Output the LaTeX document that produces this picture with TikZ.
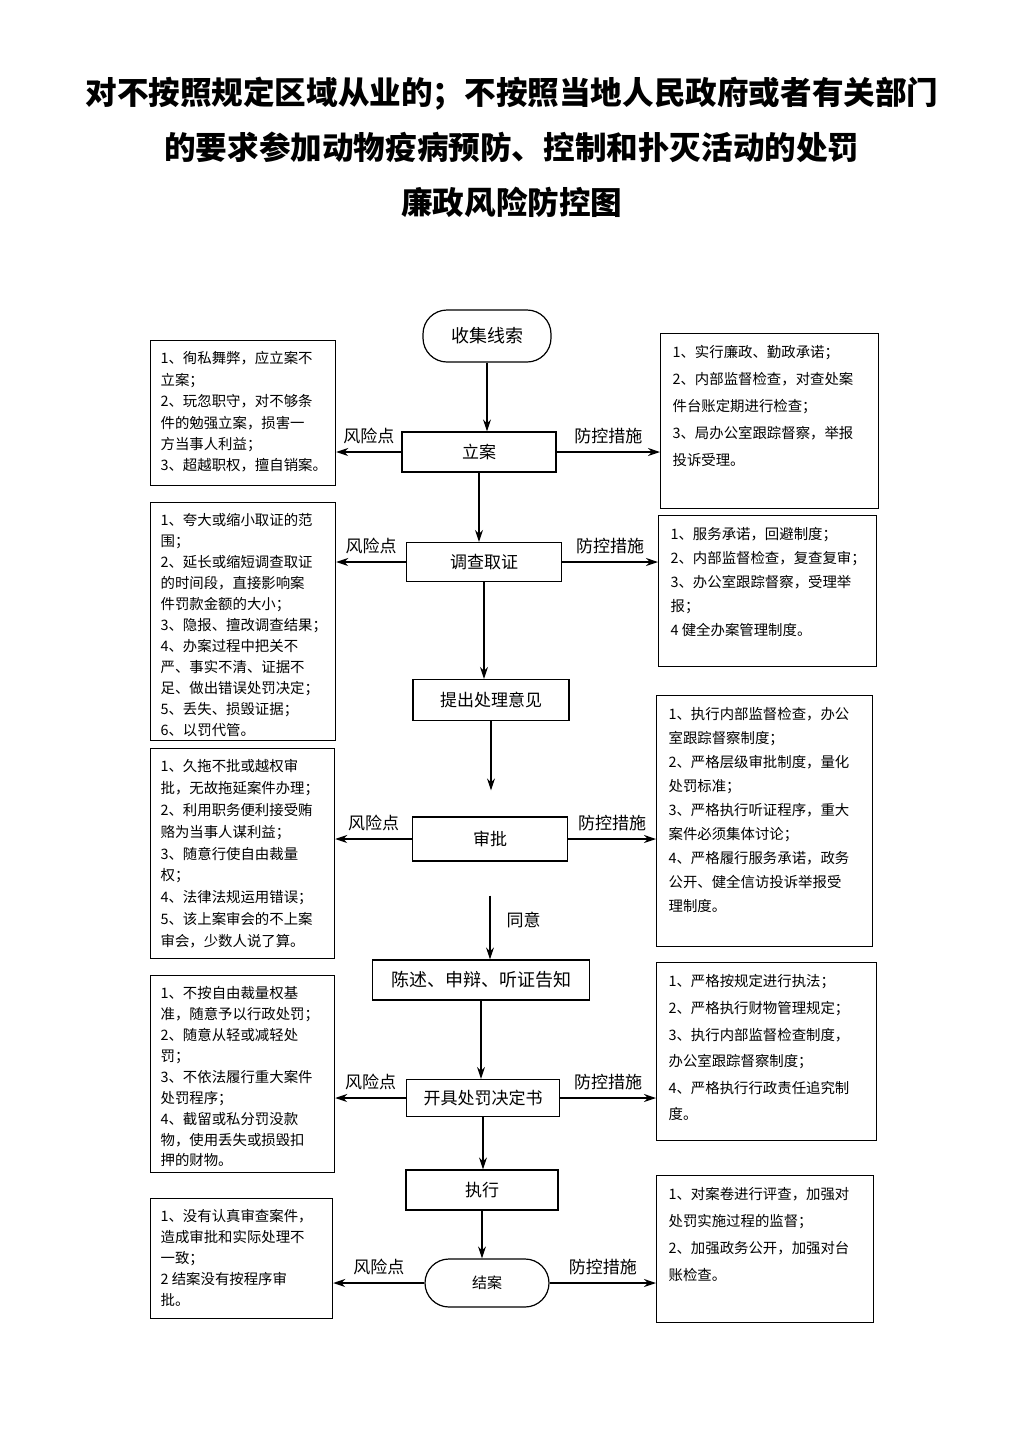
\documentclass[tikz,border=0pt]{standalone}
\usepackage{fontspec}
\setmainfont{Noto Sans CJK SC}
\usepackage{tikz}
\usetikzlibrary{arrows.meta}

% text of a side box: width, height, line distance, lines
\newcommand{\sidetxt}[4]{\parbox[t][#2][t]{#1}{\fontsize{7.2pt}{#3}\selectfont #4}}

\tikzset{
  proc/.style={draw, line width=0.6pt, inner sep=2pt, font=\fontsize{8.5pt}{10pt}\selectfont},
  term/.style={proc, rounded corners=12pt},
  risk/.style={draw, line width=0.6pt, anchor=north west, inner xsep=5pt, inner ysep=5.5pt},
  guard/.style={draw, line width=0.6pt, anchor=north west, inner xsep=6pt, inner ysep=6pt},
  flow/.style={line width=0.6pt, -{Stealth[length=6pt,width=4pt]}},
  lbl/.style={font=\fontsize{8.5pt}{10pt}\selectfont, inner sep=2pt}
}

\begin{document}
\begin{tikzpicture}[x=0.5pt, y=-0.5pt]
  \useasboundingbox (0,0) rectangle (1024,1448);

  % Title
  \node[align=center, font=\fontsize{15.8pt}{27.5pt}\selectfont\bfseries] (title) at (512,147)
    {对不按照规定区域从业的；不按照当地人民政府或者有关部门\\
     的要求参加动物疫病预防、控制和扑灭活动的处罚\\
     廉政风险防控图};

  % Define nodes
  \node[term, minimum width=64pt, minimum height=26pt, font=\fontsize{9pt}{10pt}\selectfont] (clue) at (487,336) {收集线索};
  \node[proc, minimum width=77pt, minimum height=20pt] (file) at (479,452) {立案};
  \node[proc, minimum width=77.5pt, minimum height=19.5pt] (probe) at (484,562) {调查取证};
  \node[proc, minimum width=78pt, minimum height=20.5pt] (opinion) at (491,700) {提出处理意见};
  \node[proc, minimum width=77.5pt, minimum height=22pt] (approve) at (490,839) {审批};
  \node[proc, minimum width=108.5pt, minimum height=20pt, font=\fontsize{9pt}{10pt}\selectfont] (notice) at (481,980) {陈述、申辩、听证告知};
  \node[proc, minimum width=76.5pt, minimum height=18.5pt] (decide) at (483,1098) {开具处罚决定书};
  \node[proc, minimum width=76pt, minimum height=20pt] (exec) at (482,1190) {执行};
  \node[term, minimum width=62pt, minimum height=24pt, font=\fontsize{7.5pt}{9pt}\selectfont] (close) at (487,1283) {结案};

  % Risk points
  \node[risk] (l1) at (150,340) {\sidetxt{82.5pt}{61.5pt}{10.7pt}{%
    1、徇私舞弊，应立案不\\立案；\\2、玩忽职守，对不够条\\件的勉强立案，损害一\\方当事人利益；\\3、超越职权，擅自销案。}};
  \node[risk] (l2) at (150,502) {\sidetxt{82.5pt}{108pt}{10.5pt}{%
    1、夸大或缩小取证的范\\围；\\2、延长或缩短调查取证\\的时间段，直接影响案\\件罚款金额的大小；\\3、隐报、擅改调查结果；\\4、办案过程中把关不\\严、事实不清、证据不\\足、做出错误处罚决定；\\5、丢失、损毁证据；\\6、以罚代管。}};
  \node[risk] (l3) at (150,748) {\sidetxt{82pt}{94pt}{10.9pt}{%
    1、久拖不批或越权审\\批，无故拖延案件办理；\\2、利用职务便利接受贿\\赂为当事人谋利益；\\3、随意行使自由裁量\\权；\\4、法律法规运用错误；\\5、该上案审会的不上案\\审会，少数人说了算。}};
  \node[risk] (l4) at (150,975) {\sidetxt{82pt}{87.5pt}{10.45pt}{%
    1、不按自由裁量权基\\准，随意予以行政处罚；\\2、随意从轻或减轻处\\罚；\\3、不依法履行重大案件\\处罚程序；\\4、截留或私分罚没款\\物，使用丢失或损毁扣\\押的财物。}};
  \node[risk] (l5) at (150,1198) {\sidetxt{81pt}{49pt}{10.4pt}{%
    1、没有认真审查案件，\\造成审批和实际处理不\\一致；\\2 结案没有按程序审\\批。}};

  % Control measures
  \node[guard] (r1) at (660,333) {\sidetxt{97pt}{75.5pt}{13.4pt}{%
    1、实行廉政、勤政承诺；\\2、内部监督检查，对查处案\\件台账定期进行检查；\\3、局办公室跟踪督察，举报\\投诉受理。}};
  \node[guard] (r2) at (658,515) {\sidetxt{97pt}{63.5pt}{12pt}{%
    1、服务承诺，回避制度；\\2、内部监督检查，复查复审；\\3、办公室跟踪督察，受理举\\报；\\4 健全办案管理制度。}};
  \node[guard] (r3) at (656,695) {\sidetxt{96pt}{113.5pt}{12pt}{%
    1、执行内部监督检查，办公\\室跟踪督察制度；\\2、严格层级审批制度，量化\\处罚标准；\\3、严格执行听证程序，重大\\案件必须集体讨论；\\4、严格履行服务承诺，政务\\公开、健全信访投诉举报受\\理制度。}};
  \node[guard] (r4) at (656,962) {\sidetxt{98pt}{77pt}{13.3pt}{%
    1、严格按规定进行执法；\\2、严格执行财物管理规定；\\3、执行内部监督检查制度，\\办公室跟踪督察制度；\\4、严格执行行政责任追究制\\度。}};
  \node[guard] (r5) at (656,1175) {\sidetxt{96.5pt}{61.5pt}{13.5pt}{%
    1、对案卷进行评查，加强对\\处罚实施过程的监督；\\2、加强政务公开，加强对台\\账检查。}};

  % Connect the nodes
  \draw[flow] (clue.south) -- (clue.south |- file.north);
  \draw[flow] (file.south) -- (file.south |- probe.north);
  \draw[flow] (probe.south) -- (probe.south |- opinion.north);
  \draw[flow, shorten >=13pt] (opinion.south) -- (opinion.south |- approve.north);
  \draw[flow, shorten <=17pt] (approve.south) -- (approve.south |- notice.north)
    node[lbl, pos=0.6, right=6pt] {同意};
  \draw[flow] (notice.south) -- (notice.south |- decide.north);
  \draw[flow] (decide.south) -- (decide.south |- exec.north);
  \draw[flow] (exec.south) -- (exec.south |- close.north);

  % Risk and control arrows
  \foreach \n/\l/\r in {file/l1/r1, probe/l2/r2, approve/l3/r3, decide/l4/r4, close/l5/r5} {
    \draw[flow] (\n.west) -- (\n.west -| \l.east) node[lbl, midway, above=2pt] {风险点};
    \draw[flow] (\n.east) -- (\n.east -| \r.west) node[lbl, midway, above=2pt] {防控措施};
  }

\end{tikzpicture}
\end{document}
